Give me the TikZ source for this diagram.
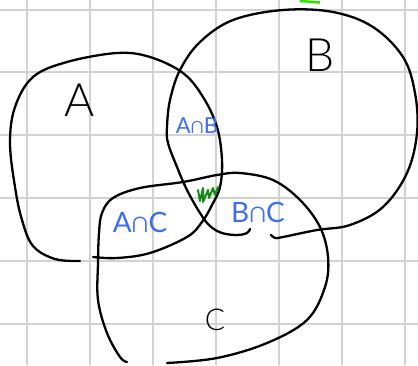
\documentclass[tikz,border=0pt]{standalone}
\usepackage{fontspec}
\newfontfamily\hand{Lato}
\newfontfamily\handlight{Lato}[UprightFont={* Light}]
\definecolor{gridc}{HTML}{D2D2D2}
\definecolor{inkblue}{HTML}{3D6EF2}
\definecolor{inkgreen}{HTML}{168A16}
\definecolor{limeg}{HTML}{33E000}
\begin{document}
\begin{tikzpicture}[x=1pt,y=-1pt,
  gridline/.style={gridc,line width=1.5pt},
  ink/.style={black,line width=2.3pt,line cap=round,line join=round},
  setlabel/.style={black,font=\handlight\fontsize{46}{46}\selectfont,inner sep=0pt},
  cutlabel/.style={inkblue,inner sep=0pt}]
\useasboundingbox (0,0) rectangle (418,365);
\fill[white] (0,0) rectangle (418,365);
% grid
\foreach \x in {27,90,153,216,279,342,405} \draw[gridline] (\x,0) -- (\x,365);
\foreach \y in {10,72,135,198,261,324} \draw[gridline] (0,\y) -- (418,\y);
% set A
\draw[ink] plot[smooth,tension=0.6] coordinates {(80,261) (55,259) (33,246) (22,220) (15,187) (10,143) (15,107) (33,77) (67,62) (117,53) (150,57) (183,73) (203,97) (217,127) (222,160) (220,187) (212,205) (202,222) (187,237) (150,253) (117,258) (93,257)};
% set B
\draw[ink] plot[smooth,tension=0.6] coordinates {(250,229) (247,233) (237,235) (222,233) (210,226) (200,213) (187,190) (177,167) (168,143) (167,127) (170,100) (180,70) (200,42) (233,20) (283,10) (333,12) (373,27) (403,57) (415,93) (417,133) (407,173) (383,207) (350,225) (317,230) (283,237) (275,238) (271,235)};
% set C
\draw[ink] plot[smooth,tension=0.6] coordinates {(167,363) (217,358) (267,343) (307,320) (325,287) (328,257) (320,227) (300,200) (273,180) (240,173) (217,175) (183,182) (140,188) (113,198) (102,213) (99,233) (98,263) (98,300) (107,333) (120,357) (127,362)};
% labels
\node[setlabel] (la) at (80,100) {A};
\node[setlabel] (lb) at (320,55) {B};
\node[black,font=\handlight\fontsize{30}{30}\selectfont,inner sep=0pt] (lc) at (215,320) {C};
\node[cutlabel,font=\hand\fontsize{22}{22}\selectfont] (lab) at (197,126) {A∩B};
\node[cutlabel,font=\hand\fontsize{28}{28}\selectfont] (lac) at (140,222) {A∩C};
\node[cutlabel,font=\hand\fontsize{28}{28}\selectfont] (lbc) at (258,212) {B∩C};
% green squiggle
\draw[inkgreen,line width=2pt,line join=round,line cap=round] (198,190) -- (200,201) -- (203,188) -- (203,202) -- (208,190) -- (209,198) -- (213,188) -- (215,195) -- (218,187);
% lime mark at top
\draw[limeg,line width=2.5pt] (300,1) -- (320,2.5);
\end{tikzpicture}
\end{document}
